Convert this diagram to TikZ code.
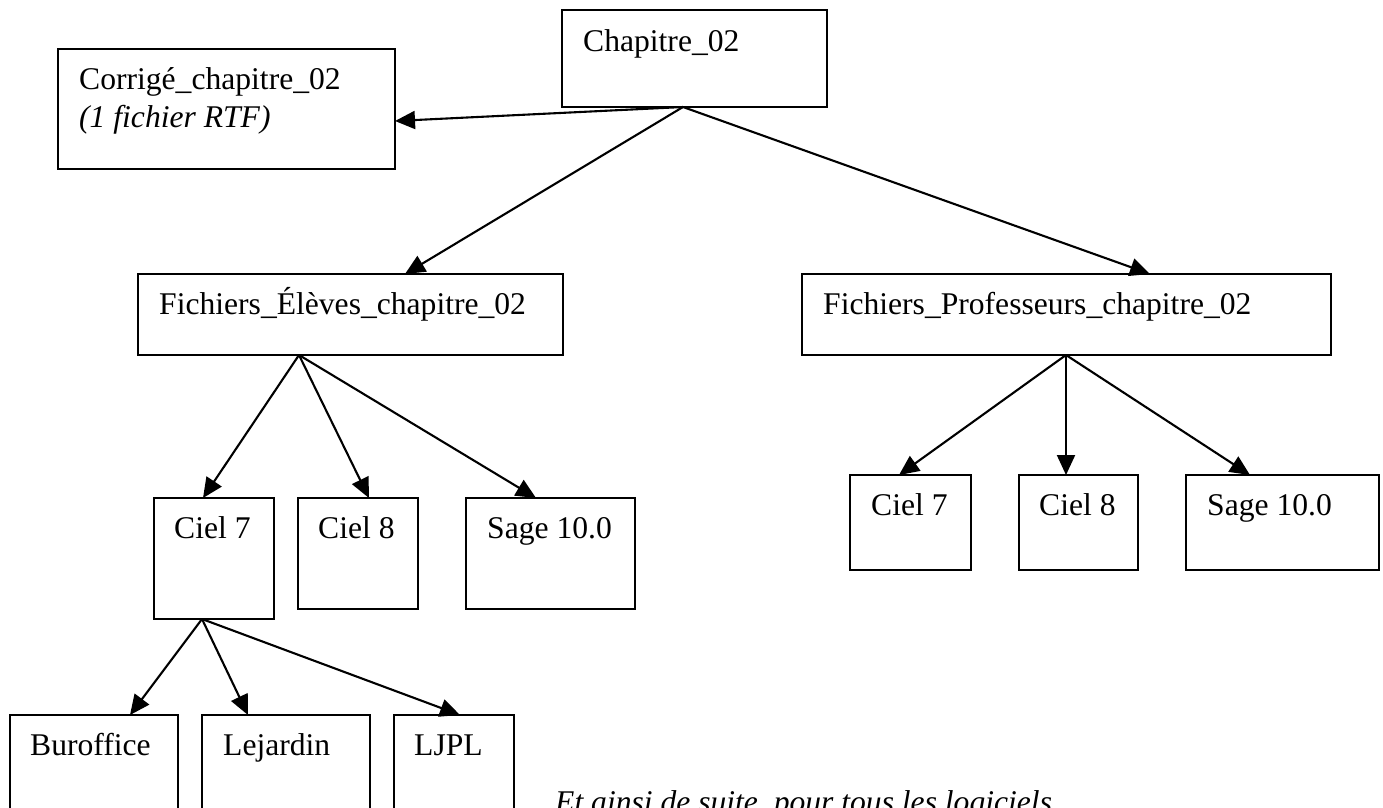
\documentclass[tikz,border=0pt]{standalone}
\usepackage{fontspec}
\setmainfont{Liberation Serif}
\usetikzlibrary{arrows.meta}
\begin{document}
\begin{tikzpicture}[x=1pt,y=-1pt,
  box/.style={draw, line width=1.5pt, anchor=north west, inner sep=0pt, outer sep=0pt},
  lbl/.style={anchor=base west, inner sep=0pt, font=\fontsize{31.6}{38}\selectfont},
  conn/.style={line width=2.1pt, -{Triangle[length=20pt,width=18pt]}},
]
\useasboundingbox (0,0) rectangle (1383,807);
\clip (0,0) rectangle (1383,807);
\fill[white] (0,0) rectangle (1383,807);

% boxes
\node[box, minimum width=265pt, minimum height=97pt]  (ch)  at (562,10)  {};
\node[box, minimum width=337pt, minimum height=120pt] (co)  at (58,49)   {};
\node[box, minimum width=425pt, minimum height=81pt]  (el)  at (138,274) {};
\node[box, minimum width=529pt, minimum height=81pt]  (pr)  at (802,274) {};
\node[box, minimum width=120pt, minimum height=121pt] (lc7) at (154,498) {};
\node[box, minimum width=120pt, minimum height=111pt] (lc8) at (298,498) {};
\node[box, minimum width=169pt, minimum height=111pt] (ls)  at (466,498) {};
\node[box, minimum width=121pt, minimum height=95pt]  (rc7) at (850,475) {};
\node[box, minimum width=119pt, minimum height=95pt]  (rc8) at (1019,475) {};
\node[box, minimum width=193pt, minimum height=95pt]  (rs)  at (1186,475) {};
\node[box, minimum width=168pt, minimum height=130pt] (bu)  at (10,715)  {};
\node[box, minimum width=168pt, minimum height=130pt] (lj)  at (202,715) {};
\node[box, minimum width=120pt, minimum height=130pt] (lp)  at (394,715) {};

% labels
\node[lbl] (tch)  at ([shift={(21,41)}]ch.north west)  {Chapitre\_02};
\node[lbl] (tco)  at ([shift={(21,40)}]co.north west)  {Corrigé\_chapitre\_02};
\node[lbl, font=\fontsize{31.6}{38}\selectfont\itshape] (tco2) at ([shift={(21,78)}]co.north west) {(1 fichier RTF)};
\node[lbl] (tel)  at ([shift={(21,40)}]el.north west)  {Fichiers\_Élèves\_chapitre\_02};
\node[lbl] (tpr)  at ([shift={(21,40)}]pr.north west)  {Fichiers\_Professeurs\_chapitre\_02};
\node[lbl] (tlc7) at ([shift={(20,40)}]lc7.north west) {Ciel 7};
\node[lbl] (tlc8) at ([shift={(20,40)}]lc8.north west) {Ciel 8};
\node[lbl] (tls)  at ([shift={(21,40)}]ls.north west)  {Sage 10.0};
\node[lbl] (trc7) at ([shift={(21,40)}]rc7.north west) {Ciel 7};
\node[lbl] (trc8) at ([shift={(20,40)}]rc8.north west) {Ciel 8};
\node[lbl] (trs)  at ([shift={(21,40)}]rs.north west)  {Sage 10.0};
\node[lbl] (tbu)  at ([shift={(20,40)}]bu.north west)  {Buroffice};
\node[lbl] (tlj)  at ([shift={(21,40)}]lj.north west)  {Lejardin};
\node[lbl] (tlp)  at ([shift={(20,40)}]lp.north west)  {LJPL};
\node[lbl, font=\fontsize{31.6}{38}\selectfont\itshape] (note) at (555,812) {Et ainsi de suite, pour tous les logiciels};

% connectors
\draw[conn] ([xshift=121pt]ch.south west) -- ([yshift=-72pt]co.north east);
\draw[conn] ([xshift=121pt]ch.south west) -- ([xshift=267pt]el.north west);
\draw[conn] ([xshift=121pt]ch.south west) -- ([xshift=348pt]pr.north west);

\draw[conn] ([xshift=161pt]el.south west) -- ([xshift=49pt]lc7.north west);
\draw[conn] ([xshift=161pt]el.south west) -- ([xshift=71pt]lc8.north west);
\draw[conn] ([xshift=161pt]el.south west) -- ([xshift=70pt]ls.north west);

\draw[conn] ([xshift=264pt]pr.south west) -- ([xshift=49pt]rc7.north west);
\draw[conn] ([xshift=264pt]pr.south west) -- ([xshift=47pt]rc8.north west);
\draw[conn] ([xshift=264pt]pr.south west) -- ([xshift=64pt]rs.north west);

\draw[conn] ([xshift=48pt]lc7.south west) -- ([xshift=120pt]bu.north west);
\draw[conn] ([xshift=48pt]lc7.south west) -- ([xshift=46pt]lj.north west);
\draw[conn] ([xshift=48pt]lc7.south west) -- ([xshift=66pt]lp.north west);
\end{tikzpicture}
\end{document}
